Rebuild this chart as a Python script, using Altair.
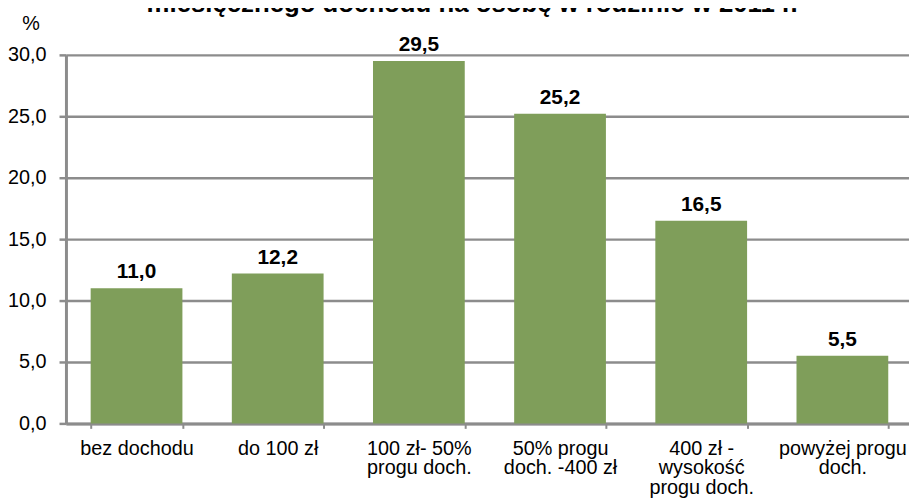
import altair as alt
import pandas as pd

categories = [
    "bez dochodu",
    "do 100 zł",
    "100 zł- 50%|progu doch.",
    "50% progu|doch. -400 zł",
    "400 zł -|wysokość|progu doch.",
    "powyżej progu|doch.",
]
values = [11.0, 12.2, 29.5, 25.2, 16.5, 5.5]
y_ticks = [0, 5, 10, 15, 20, 25, 30]
title_text = "miesięcznego dochodu na osobę w rodzinie w 2011 r."

FONT = "Liberation Sans, Arial, sans-serif"
GREEN = "#7f9e5a"
GRAY = "#8c8c8c"

df = pd.DataFrame({"cat": categories, "val": values})

base = alt.Chart(df).encode(
    x=alt.X(
        "cat:N",
        sort=categories,
        scale=alt.Scale(range=[0, 855], paddingInner=0.35, paddingOuter=0.175),
        axis=alt.Axis(
            title=None,
            labelAngle=0,
            labelExpr="split(datum.label, '|')",
            labelFont=FONT,
            labelFontSize=20,
            labelColor="black",
            labelLineHeight=20,
            labelPadding=10,
            tickSize=5,
            tickBand="extent",
            tickColor=GRAY,
            tickWidth=2,
            domainColor=GRAY,
            domainWidth=3,
            labelOverlap=False,
            labelLimit=0,
            grid=False,
        ),
    ),
    y=alt.Y(
        "val:Q",
        scale=alt.Scale(domain=[0, 30], nice=False),
        axis=alt.Axis(
            values=y_ticks,
            labelExpr="replace(format(datum.value, '.1f'), '.', ',')",
            labelFont=FONT,
            labelFontSize=20,
            labelColor="black",
            labelPadding=13,
            tickSize=7,
            tickColor=GRAY,
            tickWidth=2.5,
            domainColor=GRAY,
            domainWidth=3,
            grid=True,
            gridColor=GRAY,
            gridWidth=2.5,
            title="%",
            titleAngle=0,
            titleX=-44.5,
            titleY=-26,
            titleAlign="left",
            titleBaseline="alphabetic",
            titleFont=FONT,
            titleFontSize=20,
            titleFontWeight="normal",
            titleColor="black",
        ),
    ),
)

bars = base.mark_bar(color=GREEN)

labels = base.transform_calculate(
    lbl="replace(format(datum.val, '.1f'), '.', ',')"
).mark_text(
    baseline="alphabetic",
    dy=-10,
    font=FONT,
    fontSize=21,
    fontWeight="bold",
    color="black",
).encode(text="lbl:N")

title = alt.Chart(pd.DataFrame({"t": [title_text]})).mark_text(
    align="center",
    baseline="alphabetic",
    font=FONT,
    fontSize=26,
    fontWeight="bold",
    color="black",
).encode(x=alt.value(410), y=alt.value(-43), text="t:N")

chart = alt.layer(bars, labels, title).properties(
    width=851,
    height=372,
    autosize="none",
    padding={"left": 58.5, "top": 45, "right": 0, "bottom": 75},
).configure_view(stroke=None)

chart.save("out.html", embed_options={"renderer": "svg", "actions": False})
